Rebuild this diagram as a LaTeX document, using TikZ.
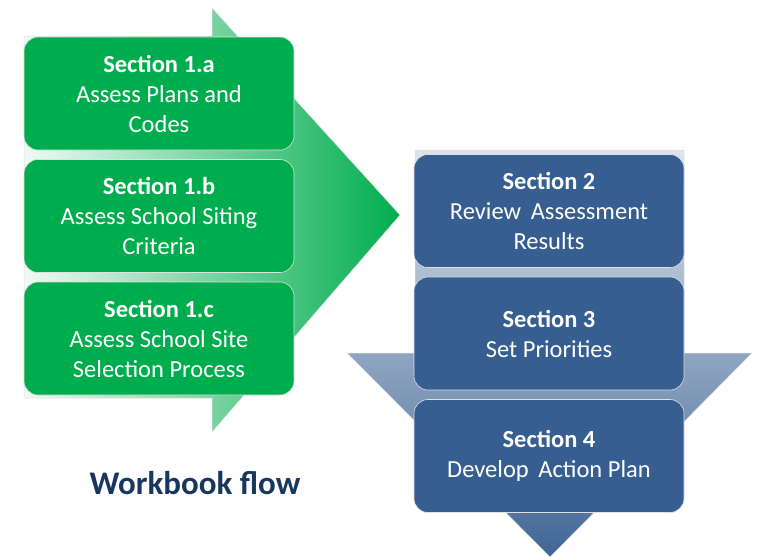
\documentclass[tikz,border=0pt]{standalone}
\usepackage{fontspec}
\setmainfont{Carlito}
\usetikzlibrary{positioning}
\definecolor{secgreen}{RGB}{0,173,78}
\definecolor{secblue}{RGB}{54,94,144}
\definecolor{shaftblue}{RGB}{222,228,237}
\definecolor{flowblue}{RGB}{23,55,94}

\begin{document}
\begin{tikzpicture}[x=1pt, y=-1pt, node distance=122.5pt]
        \tikzstyle{sec}=[rectangle,rounded corners=14pt,minimum width=270pt,minimum height=113pt,
                         text=white,align=center,draw=black!12,line width=0.6pt,
                         font=\fontsize{24.5}{30}\selectfont]
        \tikzstyle{green sec}=[sec,fill=secgreen]
        \tikzstyle{blue sec}=[sec,fill=secblue]

        \useasboundingbox (0,0) rectangle (764,558);

        % big arrows behind the boxes
        \shade[left color=secgreen!6, right color=secgreen, draw=black!12, line width=0.5pt]
            (24,36) -- (212,36) -- (212,8) -- (400,215) -- (212,432) -- (212,398) -- (24,398) -- cycle;
        \shade[top color=shaftblue, bottom color=secblue!95!white, draw=black!12, line width=0.5pt]
            (415,150) -- (684,150) -- (684,353) -- (752,353) -- (550,557) -- (347,353) -- (415,353) -- cycle;

        \node[green sec]    (s1a) at (159,93.5)  {\textbf{Section 1.a}\\Assess Plans and\\Codes};
        \node[green sec]    (s1b)[below of=s1a]  {\textbf{Section 1.b}\\Assess School Siting\\Criteria};
        \node[green sec]    (s1c)[below of=s1b]  {\textbf{Section 1.c}\\Assess School Site\\Selection Process};

        \node[blue sec]     (s2) at (549,211)    {\textbf{Section 2}\\Review\, Assessment\\Results};
        \node[blue sec]     (s3)[below of=s2]    {\textbf{Section 3}\\Set Priorities};
        \node[blue sec]     (s4)[below of=s3]    {\textbf{Section 4}\\Develop\, Action Plan};

        \node[text=flowblue, font=\fontsize{33}{38}\selectfont\bfseries] (flow) at (195,483) {Workbook flow};
    \end{tikzpicture}
\end{document}
